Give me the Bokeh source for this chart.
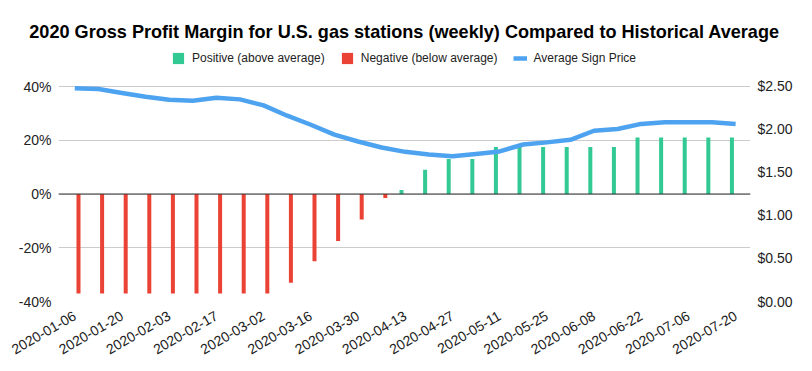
from bokeh.plotting import figure
from bokeh.models import (ColumnDataSource, Range1d, LinearAxis, FixedTicker,
                          PrintfTickFormatter, NumeralTickFormatter, Span,
                          Legend, LegendItem)
from bokeh.transform import dodge
from bokeh.embed import file_html
from bokeh.resources import INLINE

# ---------------- data ----------------
dates = ["2020-01-06", "2020-01-13", "2020-01-20", "2020-01-27", "2020-02-03",
         "2020-02-10", "2020-02-17", "2020-02-24", "2020-03-02", "2020-03-09",
         "2020-03-16", "2020-03-23", "2020-03-30", "2020-04-06", "2020-04-13",
         "2020-04-20", "2020-04-27", "2020-05-04", "2020-05-11", "2020-05-18",
         "2020-05-25", "2020-06-01", "2020-06-08", "2020-06-15", "2020-06-22",
         "2020-06-29", "2020-07-06", "2020-07-13", "2020-07-20"]

# gross profit margin vs. historical average (percent)
margin = [-37, -37, -37, -37, -37, -37, -37, -37, -37, -33, -25, -17.5, -9.5, -1.5,
          1.5, 9, 13, 13, 17.5, 17.5, 17.5, 17.5, 17.5, 17.5, 21, 21, 21, 21, 21]

# average sign price (USD)
price = [2.48, 2.47, 2.425, 2.38, 2.345, 2.335, 2.37, 2.35, 2.28, 2.16, 2.055,
         1.94, 1.86, 1.79, 1.74, 1.71, 1.69, 1.715, 1.745, 1.825, 1.85, 1.88,
         1.985, 2.005, 2.065, 2.085, 2.085, 2.085, 2.065]

pct_ticks = [-40, -20, 0, 20, 40]
price_ticks = [0, 0.5, 1.0, 1.5, 2.0, 2.5]

series_labels = ["Positive (above average)", "Negative (below average)", "Average Sign Price"]
title_text = "2020 Gross Profit Margin for U.S. gas stations (weekly) Compared to Historical Average"

# ---------------- sources ----------------
idx = list(range(len(dates)))
pos_src = ColumnDataSource(dict(x=[i for i in idx if margin[i] > 0],
                                top=[m for m in margin if m > 0]))
neg_src = ColumnDataSource(dict(x=[i for i in idx if margin[i] < 0],
                                top=[m for m in margin if m < 0]))
line_src = ColumnDataSource(dict(x=idx, price=price))

GREEN = "#33c995"
RED = "#ea4335"
BLUE = "#4da3ef"
FONT = "Liberation Sans"
TXT = "#222222"

# The frame starts just under the title so the legend sits inside it; the axes
# keep their tick sets, so only -40%..40% / $0..$2.50 are labelled.
p = figure(width=812, height=371, output_backend="svg", toolbar_location=None,
           title=title_text,
           x_range=Range1d(-0.69, 28.63), y_range=Range1d(-40, 55.63),
           min_border_left=58, min_border_right=62, min_border_top=44,
           min_border_bottom=70)
p.outline_line_color = None
p.background_fill_color = "white"
p.border_fill_color = "white"

p.extra_y_ranges = {"price": Range1d(0, 2.988)}

pos_r = p.vbar(x=dodge("x", -0.157, range=p.x_range), top="top", bottom=0,
               width=0.17, source=pos_src, fill_color=GREEN, line_color=None)
neg_r = p.vbar(x=dodge("x", 0.157, range=p.x_range), top="top", bottom=0,
               width=0.17, source=neg_src, fill_color=RED, line_color=None)

zero = Span(location=0, dimension="width", line_color="#333333", line_width=1)
p.add_layout(zero)

line_r = p.line("x", "price", source=line_src, y_range_name="price",
                line_color=BLUE, line_width=4.5, line_join="round")

# axes
p.xaxis.ticker = FixedTicker(ticks=idx[::2])
p.xaxis.major_label_overrides = {i: dates[i] for i in idx[::2]}
p.xaxis.major_label_orientation = 0.5236
p.xaxis.axis_line_color = None
p.xaxis.major_tick_line_color = None
p.xaxis.minor_tick_line_color = None
p.xaxis.major_tick_out = 0
p.xaxis.major_tick_in = 0
p.xaxis.major_label_standoff = 13
p.xaxis.major_label_text_font = FONT
p.xaxis.major_label_text_font_size = "14px"
p.xaxis.major_label_text_color = TXT

p.yaxis.ticker = FixedTicker(ticks=pct_ticks)
p.yaxis.formatter = PrintfTickFormatter(format="%d%%")
p.yaxis.axis_line_color = None
p.yaxis.major_tick_line_color = None
p.yaxis.minor_tick_line_color = None
p.yaxis.major_tick_out = 0
p.yaxis.major_tick_in = 0
p.yaxis.major_label_standoff = 7
p.yaxis.major_label_text_font = FONT
p.yaxis.major_label_text_font_size = "14px"
p.yaxis.major_label_text_color = TXT

right = LinearAxis(y_range_name="price", ticker=FixedTicker(ticks=price_ticks),
                   formatter=NumeralTickFormatter(format="$0.00"))
right.axis_line_color = None
right.major_tick_line_color = None
right.minor_tick_line_color = None
right.major_tick_out = 0
right.major_tick_in = 0
right.major_label_standoff = 7
right.major_label_text_font = FONT
right.major_label_text_font_size = "14px"
right.major_label_text_color = TXT
p.add_layout(right, "right")

p.xgrid.grid_line_color = None
p.ygrid.ticker = FixedTicker(ticks=pct_ticks)
p.ygrid.grid_line_color = "#cccccc"
p.ygrid.grid_line_width = 1

# legend (screen px from the frame's bottom-left corner)
legend = Legend(items=[LegendItem(label=series_labels[0], renderers=[pos_r]),
                       LegendItem(label=series_labels[1], renderers=[neg_r]),
                       LegendItem(label=series_labels[2], renderers=[line_r])],
                orientation="horizontal", location=(113, 236),
                border_line_color=None, background_fill_alpha=0,
                label_text_font=FONT, label_text_font_size="12px",
                label_text_color=TXT, glyph_width=14, glyph_height=14,
                label_standoff=7, spacing=15, padding=0, margin=0)
p.add_layout(legend, "center")

p.title.align = "center"
p.title.standoff = 6
p.title.text_font = FONT
p.title.text_font_size = "18.1px"
p.title.text_font_style = "bold"
p.title.text_color = "#000000"

open("out.html", "w").write(file_html(p, INLINE))
